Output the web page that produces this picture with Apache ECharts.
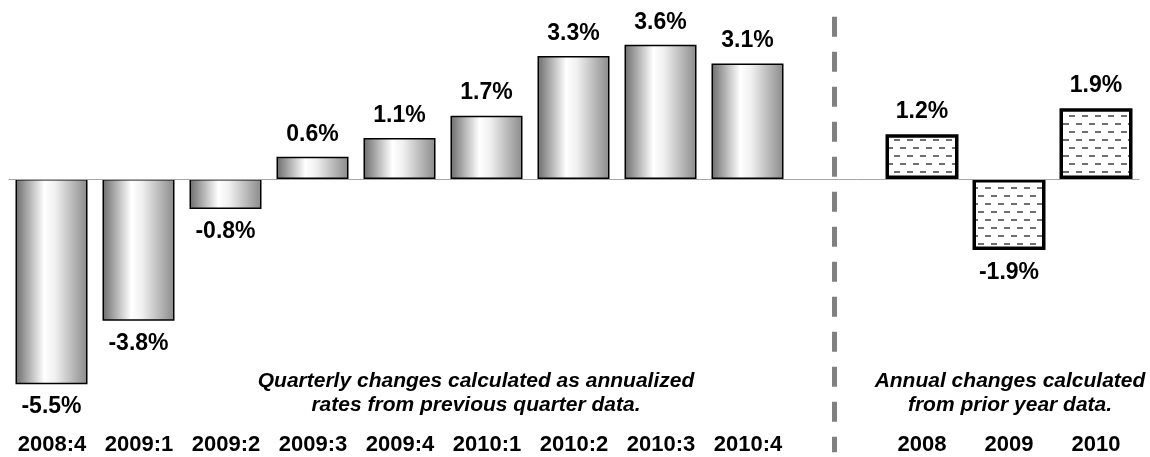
<!DOCTYPE html>
<html>
<head>
<meta charset="utf-8">
<script src="https://cdn.jsdelivr.net/npm/echarts@6/dist/echarts.min.js"></script>
<style>
  html, body { margin: 0; padding: 0; background: #fff; }
  #chart { width: 1150px; height: 457px; }
</style>
</head>
<body>
<div id="chart"></div>
<script>
const categories = ["2008:4", "2009:1", "2009:2", "2009:3", "2009:4", "2010:1", "2010:2", "2010:3", "2010:4", "", "2008", "2009", "2010"];
const quarterly = [-5.5, -3.8, -0.8, 0.6, 1.1, 1.7, 3.3, 3.6, 3.1, null, null, null, null];
const annual = [null, null, null, null, null, null, null, null, null, null, 1.2, -1.9, 1.9];
const quarterlyNote = ["Quarterly changes calculated as annualized", "rates from previous quarter data."];
const annualNote = ["Annual changes calculated", "from prior year data."];

const FONT = "Liberation Sans";

// dashed fill for the annual bars
function makePattern() {
  const c = document.createElement("canvas");
  c.width = 13;
  c.height = 16;
  const ctx = c.getContext("2d");
  ctx.fillStyle = "#fff";
  ctx.fillRect(0, 0, 13, 16);
  ctx.fillStyle = "#6f6f6f";
  ctx.fillRect(3, 3, 6, 2);
  ctx.fillRect(0, 11, 3, 2);
  ctx.fillRect(10, 11, 3, 2);
  return c;
}

const chart = echarts.init(document.getElementById("chart"));

const valueLabel = {
  show: true,
  position: "top",
  distance: 11,
  fontFamily: FONT,
  fontWeight: "bold",
  fontSize: 23,
  color: "#000",
  formatter: (p) => p.value.toFixed(1) + "%",
};

function withLabels(arr) {
  return arr.map((v) => {
    if (v == null) return null;
    return { value: v, label: { position: v < 0 ? "bottom" : "top" } };
  });
}

const noteStyle = {
  textAlign: "center",
  textVerticalAlign: "middle",
  font: "italic bold 21px 'Liberation Sans'",
  lineHeight: 24,
  fill: "#000",
};

const option = {
  animation: false,
  backgroundColor: "#fff",
  grid: { left: 8.5, right: 10.5, top: 0, bottom: 0 },
  xAxis: {
    type: "category",
    data: categories,
    axisLine: { show: false },
    axisTick: { show: false },
    axisLabel: {
      inside: true,
      margin: 1,
      interval: 0,
      color: "#000",
      fontFamily: FONT,
      fontWeight: "bold",
      fontSize: 22,
    },
  },
  yAxis: {
    type: "value",
    min: -7.45,
    max: 4.8,
    show: false,
    splitLine: { show: false },
  },
  graphic: [
    {
      type: "text",
      x: 476,
      y: 393,
      style: Object.assign({ text: quarterlyNote.join("\n") }, noteStyle),
    },
    {
      type: "text",
      x: 1010,
      y: 393,
      style: Object.assign({ text: annualNote.join("\n") }, noteStyle),
    },
  ],
  series: [
    {
      type: "bar",
      data: withLabels(quarterly),
      barWidth: 72,
      barGap: "-100%",
      itemStyle: {
        color: new echarts.graphic.LinearGradient(0, 0, 1, 0, [
          { offset: 0, color: "#6c6c6c" },
          { offset: 0.4, color: "#ffffff" },
          { offset: 0.55, color: "#f0f0f0" },
          { offset: 1, color: "#8a8a8a" },
        ]),
        borderColor: "#000",
        borderWidth: 1.5,
      },
      label: valueLabel,
      markLine: {
        silent: true,
        symbol: "none",
        label: { show: false },
        data: [
          { yAxis: 0, lineStyle: { color: "#a6a6a6", width: 1, type: "solid" } },
          [
            { xAxis: 9, yAxis: 4.35, lineStyle: { color: "#808080", width: 5, type: [20, 15] } },
            { xAxis: 9, yAxis: -7.32 },
          ],
        ],
      },
      z: 3,
    },
    {
      type: "bar",
      data: withLabels(annual),
      barWidth: 73,
      itemStyle: {
        color: { image: makePattern(), repeat: "repeat" },
        borderColor: "#000",
        borderWidth: 3.5,
      },
      label: valueLabel,
      z: 3,
    },
  ],
};

chart.setOption(option);
</script>
</body>
</html>
